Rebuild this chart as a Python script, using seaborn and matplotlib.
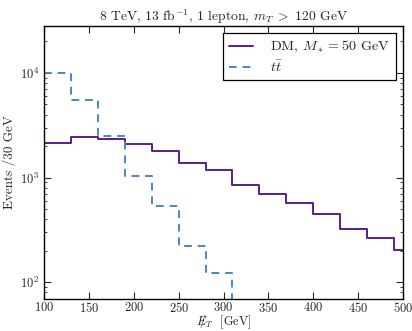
import numpy as np
import pandas as pd
import matplotlib
matplotlib.use("Agg")
import matplotlib.pyplot as plt
import seaborn as sns

# bin left edges (30 GeV bins) and contents
bin_edges = [100, 130, 160, 190, 220, 250, 280, 310, 340, 370, 400, 430, 460, 490, 520]
dm_events = [2155, 2420, 2335, 2110, 1790, 1395, 1180, 860, 695, 572, 451, 325, 264, 205]
tt_events = [10070, 5520, 2490, 1045, 541, 222, 124, 0, 0, 0, 0, 0, 0, 0]

dm_label = r"DM, $M_* = 50$ GeV"
tt_label = r"$t\bar{t}$"

sns.set_style("ticks")
plt.rcParams["font.family"] = "serif"
plt.rcParams["font.serif"] = ["cmr10", "DejaVu Serif"]
plt.rcParams["mathtext.fontset"] = "cm"
plt.rcParams["axes.unicode_minus"] = False
plt.rcParams["axes.formatter.use_mathtext"] = True

# step histograms: repeat the last content at the closing edge
dm = pd.DataFrame({"met": bin_edges, "events": dm_events + dm_events[-1:]})
tt = pd.DataFrame({"met": bin_edges, "events": tt_events + tt_events[-1:]})

fig = plt.figure(figsize=(4.12, 3.31), dpi=100)
ax = fig.add_axes([0.107, 0.098, 0.871, 0.823])

sns.lineplot(data=dm, x="met", y="events", ax=ax, color="#5a1c93", lw=1.4,
             drawstyle="steps-post", label=dm_label)
sns.lineplot(data=tt, x="met", y="events", ax=ax, color="#4a86c4", lw=1.4,
             linestyle=(0, (4, 3)), drawstyle="steps-post", label=tt_label)

ax.set_yscale("log")
ax.set_xlim(100, 500)
ax.set_ylim(70, 28000)
ax.set_xticks([100, 150, 200, 250, 300, 350, 400, 450, 500])

ax.set_title(r"8 TeV, 13 fb$^{-1}$, 1 lepton, $m_T\ >\ 120$ GeV", fontsize=9.8, pad=4)
ax.set_xlabel(r"$E\!\!\!/_T$  [GeV]", fontsize=8.8, labelpad=-1.5)
ax.set_ylabel("Events /30 GeV", fontsize=9.5, labelpad=3)

ax.tick_params(which="both", direction="in", top=True, right=True, labelsize=9)
ax.tick_params(axis="x", pad=1.5)
ax.tick_params(which="major", length=5, width=0.8)
ax.tick_params(which="minor", length=2.5, width=0.6)
for s in ax.spines.values():
    s.set_linewidth(1.0)
    s.set_color("black")

leg = ax.legend(loc="upper right", fontsize=10.2, frameon=True, fancybox=False,
                edgecolor="black", framealpha=1, borderaxespad=0.5,
                handlelength=1.7, handletextpad=1.2, borderpad=0.4,
                labelspacing=0.3)
leg.get_frame().set_linewidth(0.9)

fig.savefig("out.png", dpi=100)
plt.close()
